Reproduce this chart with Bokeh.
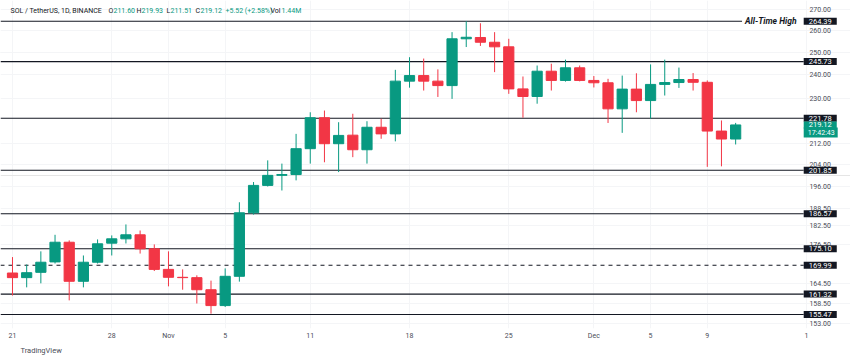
import pandas as pd
from bokeh.plotting import figure
from bokeh.models import (Range1d, FixedTicker, Label, ColumnDataSource, Grid, Title)
from bokeh.embed import file_html
from bokeh.resources import INLINE

# ---------------- data ----------------
dates = pd.date_range("2024-10-21", "2024-12-11", freq="D")

opens = [167.6, 166.2, 167.8, 171.0, 177.2, 165.1, 170.9, 176.9, 178.3, 179.6, 175.1,
         168.7, 166.3, 166.2, 162.6, 158.0, 166.6, 186.9, 196.4, 200.0, 200.3,
         209.9, 222.0, 211.8, 215.1, 209.5, 218.2, 215.6, 237.2, 239.6, 237.2,
         235.3, 256.1, 256.7, 254.5, 252.4, 233.9, 230.7, 241.5, 237.5, 243.0,
         237.5, 236.5, 225.6, 233.8, 229.0, 235.8, 236.6, 237.9, 236.7, 216.7, 213.6]
highs = [172.5, 170.2, 174.3, 179.6, 177.8, 173.0, 178.1, 179.4, 183.0, 181.0, 176.5,
         174.3, 168.7, 166.9, 165.3, 169.0, 190.5, 197.6, 205.5, 204.3, 215.6,
         224.2, 224.9, 220.2, 223.6, 220.6, 221.6, 242.1, 247.7, 247.1, 242.3,
         259.2, 264.39, 263.4, 259.2, 256.1, 239.2, 244.0, 244.8, 246.6, 244.0,
         239.4, 238.2, 239.6, 240.6, 244.5, 246.6, 243.1, 240.7, 237.5, 220.9, 219.93]
lows = [160.9, 163.3, 164.5, 170.5, 159.5, 163.3, 170.5, 173.0, 176.8, 173.6, 168.2,
        163.6, 162.6, 158.6, 155.7, 157.6, 165.0, 186.3, 196.0, 194.6, 198.2,
        204.3, 204.8, 201.2, 206.7, 204.3, 213.7, 212.7, 234.4, 233.2, 230.5,
        229.7, 252.3, 252.8, 241.1, 231.8, 222.0, 227.7, 233.2, 237.0, 237.1,
        234.5, 219.9, 216.0, 224.2, 221.6, 231.1, 234.3, 233.2, 203.1, 203.3, 211.51]
closes = [166.2, 167.7, 170.9, 177.2, 165.1, 170.9, 176.7, 178.3, 179.6, 175.1, 168.7,
          166.3, 166.2, 162.6, 158.0, 166.6, 186.9, 196.4, 200.0, 200.3, 209.9,
          222.0, 211.8, 215.0, 209.5, 218.2, 215.6, 237.2, 239.6, 237.2, 235.3,
          256.1, 256.8, 254.5, 252.4, 233.9, 230.7, 241.5, 237.5, 243.0, 237.5,
          236.5, 225.6, 233.8, 229.0, 235.8, 236.6, 237.9, 236.7, 216.7, 213.6, 219.12]

ath_level = 264.39
levels = [245.73, 221.78, 201.85, 186.57, 175.10, 161.32, 155.47]
dashed_level = 169.99
last_price = 219.12
countdown = "17:42:43"

price_ticks = [270, 260, 250, 240, 230, 212, 204, 196, 188.5, 182.5, 176.5, 164.5, 158.5, 153]
tick_dates = ["2024-10-21", "2024-10-28", "2024-11-01", "2024-11-05", "2024-11-11",
              "2024-11-18", "2024-11-25", "2024-12-01", "2024-12-05", "2024-12-09", "2024-12-16"]
tick_labels = ["21", "28", "Nov", "5", "11", "18", "25", "Dec", "5", "9", "1"]

header_parts = [("SOL / TetherUS, 1D, BINANCE", "dark"), ("O", "dark"), ("211.60", "green"),
                ("H", "dark"), ("219.93", "green"), ("L", "dark"), ("211.51", "green"),
                ("C", "dark"), ("219.12", "green"), ("+5.52 (+2.58%)", "green"),
                ("Vol", "dark"), ("1.44M", "green")]

# ---------------- styling / layout constants ----------------
UP, DOWN, INK, MUTED = "#089981", "#f23645", "#131722", "#4a4d57"
FONT = "Roboto"
FRAME_BOTTOM = 328            # page y of the bottom of the plotting frame
SCALE_DAY = 55.8              # x (in days) where the price-scale column starts
TICK_TEXT_DAY = 56.2          # x (in days) of the price-scale tick texts
ATH_LINE_END = 51.6           # x (in days) where the all-time-high line stops


def sy(py):
    return FRAME_BOTTOM - py


day = [(d - dates[0]).days for d in dates]
colors = [UP if c >= o else DOWN for o, c in zip(opens, closes)]
src = ColumnDataSource(dict(
    x=day, high=highs, low=lows,
    top=[max(o, c) for o, c in zip(opens, closes)],
    bottom=[min(o, c) for o, c in zip(opens, closes)],
    color=colors))

x_range = Range1d(-0.846, 59.1)
p = figure(width=850, height=364, x_range=x_range, y_range=Range1d(151.58, 274.48),
           y_axis_type="log", y_axis_location=None, output_backend="svg", toolbar_location=None,
           min_border_left=0, min_border_top=0, min_border_right=0, min_border_bottom=36)
p.outline_line_color = None

# time axis
tick_days = [(pd.Timestamp(t) - dates[0]).days for t in tick_dates]
p.xaxis.ticker = FixedTicker(ticks=tick_days, minor_ticks=[])
p.xaxis.major_label_overrides = {d: l for d, l in zip(tick_days, tick_labels)}
p.xaxis.axis_line_color = None
p.xaxis.major_tick_line_color = None
p.xaxis.minor_tick_line_color = None
p.xaxis.major_tick_out = 0
p.xaxis.major_tick_in = 0
p.xaxis.major_label_standoff = 3
p.xaxis.major_label_text_font = FONT
p.xaxis.major_label_text_font_size = "7px"
p.xaxis.major_label_text_color = MUTED
p.xgrid.grid_line_color = "#f4f5f7"
p.add_layout(Grid(dimension=1, ticker=FixedTicker(ticks=price_ticks), grid_line_color="#f4f5f7"))

# TradingView attribution
p.add_layout(Title(text="TradingView", align="left", offset=20, standoff=2, text_font=FONT,
                   text_font_size="7.5px", text_font_style="normal", text_color=MUTED), "below")

# level lines (stop at the price-scale column)
p.segment(x0=x_range.start, x1=ATH_LINE_END, y0=ath_level, y1=ath_level, line_color=INK, line_width=1.1)
p.segment(x0=[x_range.start] * len(levels), x1=[SCALE_DAY] * len(levels), y0=levels, y1=levels,
          line_color=INK, line_width=1.1)
p.segment(x0=x_range.start, x1=SCALE_DAY, y0=dashed_level, y1=dashed_level, line_color=INK,
          line_width=1.1, line_dash="4 4")

# candles
p.segment(x0="x", y0="high", x1="x", y1="low", color="color", line_width=1, source=src)
p.vbar(x="x", width=0.72, top="top", bottom="bottom", fill_color="color", line_color="color",
       source=src)

# price scale tick texts
p.text(x=[TICK_TEXT_DAY] * len(price_ticks), y=price_ticks, text=[f"{t:.2f}" for t in price_ticks],
       text_font_size="7px", text_color=MUTED, text_align="left", text_baseline="middle",
       text_font={"value": FONT})

# price-scale boxes
box_pad = dict(left=5, right=5, top=1, bottom=1)
for lv in [ath_level] + levels + [dashed_level]:
    p.add_layout(Label(x=SCALE_DAY, y=lv, text=f"{lv:.2f}", text_color="white", text_font=FONT,
                       text_font_size="7.5px", text_baseline="middle", text_align="left",
                       background_fill_color="#131722", padding=box_pad))
p.add_layout(Label(x=SCALE_DAY, y=last_price, text=f"{last_price:.2f}", text_color="white",
                   text_font=FONT, text_font_size="7.5px", text_baseline="middle", text_align="left",
                   background_fill_color=UP, padding=box_pad))
p.add_layout(Label(x=SCALE_DAY, y=sy(132), y_units="screen", text=countdown, text_color="white",
                   text_font=FONT, text_font_size="7px", text_baseline="middle", text_align="left",
                   background_fill_color=UP, padding=dict(left=4, right=3, top=1, bottom=1)))

# All-Time High tag
p.add_layout(Label(x=799, y=ath_level, x_units="screen", text="All-Time High",
                   text_color=INK, text_font=FONT, text_font_size="8.5px", text_font_style="bold italic",
                   text_baseline="middle", text_align="right",
                   background_fill_color="white", padding=3))

# header legend
header_x = [10, 108, 113, 136, 141, 166, 170, 195, 200, 225, 270, 281]
for (txt, kind), hx in zip(header_parts, header_x):
    p.add_layout(Label(x=hx, y=sy(10), x_units="screen", y_units="screen", text=txt,
                       text_color=INK if kind == "dark" else UP, text_font=FONT,
                       text_font_size="7px", text_baseline="middle", text_align="left"))

open("out.html", "w").write(file_html(p, INLINE))
